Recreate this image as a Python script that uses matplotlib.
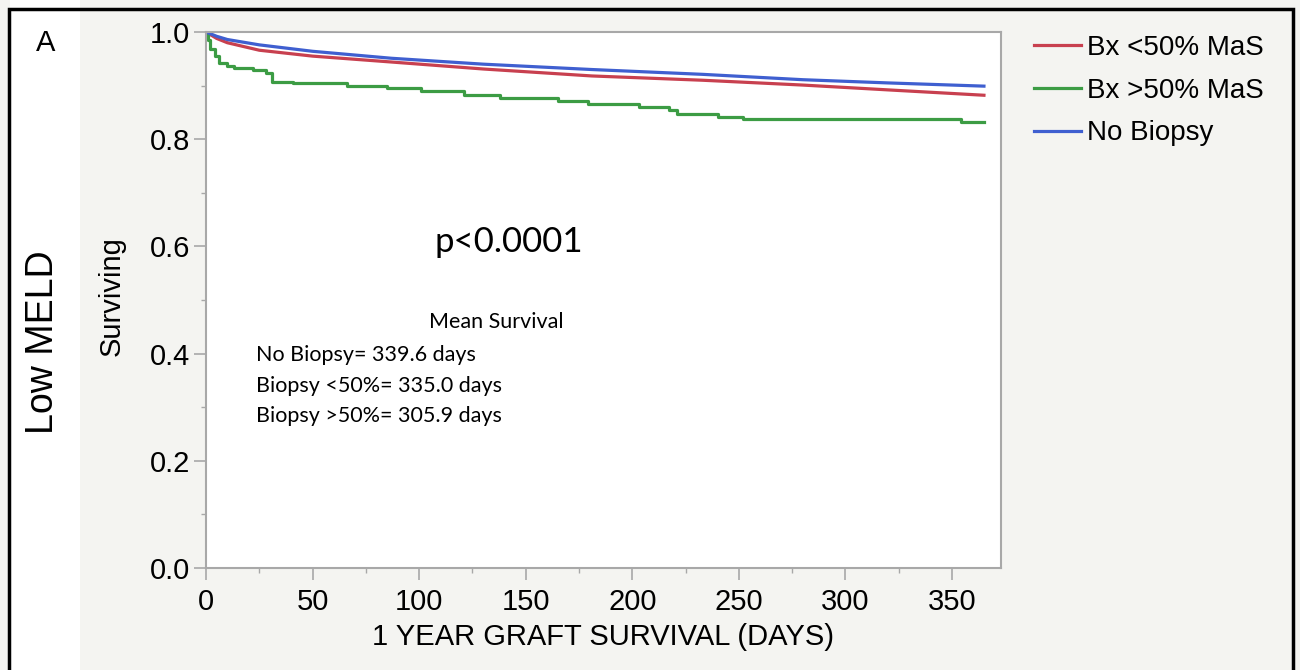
import matplotlib
matplotlib.use("Agg")
import matplotlib.pyplot as plt
from matplotlib.patches import Rectangle
from matplotlib.ticker import MultipleLocator

# Kaplan-Meier style survival curves
days_no_bx = [0, 5, 10, 25, 50, 87, 130, 181, 233, 280, 320, 365]
surv_no_bx = [1.0, 0.992, 0.986, 0.976, 0.964, 0.951, 0.940, 0.930, 0.921, 0.911, 0.905, 0.899]

days_lt50 = [0, 5, 10, 25, 50, 87, 130, 181, 233, 280, 320, 365]
surv_lt50 = [1.0, 0.988, 0.980, 0.966, 0.955, 0.944, 0.931, 0.918, 0.910, 0.901, 0.892, 0.882]

days_gt50 = [0, 1, 2, 4, 6, 10, 13, 22, 28, 31, 41, 66, 85, 101, 121, 138,
             165, 179, 203, 217, 221, 240, 252, 354, 365]
surv_gt50 = [1.0, 0.985, 0.968, 0.955, 0.942, 0.936, 0.933, 0.929, 0.924, 0.907,
             0.904, 0.899, 0.895, 0.889, 0.882, 0.877, 0.872, 0.866, 0.861, 0.855,
             0.847, 0.842, 0.837, 0.833, 0.833]

labels = ["Bx <50% MaS", "Bx >50% MaS", "No Biopsy"]
colors = ["#c8404f", "#3c9c44", "#3f5fd0"]

x_ticks = [0, 50, 100, 150, 200, 250, 300, 350]
y_ticks = [0.0, 0.2, 0.4, 0.6, 0.8, 1.0]

mean_lines = ["No Biopsy= 339.6 days",
              "Biopsy <50%= 335.0 days",
              "Biopsy >50%= 305.9 days"]

W, H = 1300, 670
fig = plt.figure(figsize=(13, 6.7), dpi=100, facecolor="#f4f4f1")
plt.rcParams["font.family"] = ["Liberation Sans", "DejaVu Sans"]

# white strip on the left and black frame
fig.patches.append(Rectangle((10 / W, 0), 70 / W, 1, transform=fig.transFigure,
                             facecolor="white", edgecolor="none", zorder=0))
fig.patches.append(Rectangle((9 / W, -0.1), 1284 / W, (661 / H) + 0.1,
                             transform=fig.transFigure, facecolor="none",
                             edgecolor="black", linewidth=2.5, zorder=5))

ax = fig.add_axes([206 / W, (H - 568) / H, 795 / W, 536 / H])
ax.set_facecolor("white")

l1, = ax.plot(days_lt50, surv_lt50, color=colors[0], lw=2.3)
l2, = ax.plot(days_gt50, surv_gt50, color=colors[1], lw=2.3, drawstyle="steps-post")
l3, = ax.plot(days_no_bx, surv_no_bx, color=colors[2], lw=2.3)

ax.set_xlim(0, 373)
ax.set_ylim(0, 1.0)
ax.set_xticks(x_ticks)
ax.set_yticks(y_ticks)
ax.set_yticklabels([f"{v:.1f}" for v in y_ticks])
ax.xaxis.set_minor_locator(MultipleLocator(25))
ax.yaxis.set_minor_locator(MultipleLocator(0.1))
for s in ax.spines.values():
    s.set_color("#a8a8a8")
    s.set_linewidth(1.5)
ax.tick_params(which="major", length=8.5, width=1.2, color="#a8a8a8",
               labelsize=21, labelcolor="black")
ax.tick_params(axis="x", which="major", pad=6)
ax.tick_params(axis="y", which="major", pad=3)
ax.tick_params(which="minor", length=3.6, width=1.0, color="#a8a8a8")

ax.set_xlabel("1 YEAR GRAFT SURVIVAL (DAYS)", fontsize=21, labelpad=5)
ax.set_ylabel("Surviving", fontsize=21, va="center")
ax.yaxis.set_label_coords((112 - 206) / 795, (568 - 296) / 536)

# annotations
ax.text(142, 0.608, "p<0.0001", fontsize=25, family="Lato", ha="center", va="center")
ax.text(136, 0.459, "Mean Survival", fontsize=15.5, family="Lato", ha="center", va="center")
for i, line in enumerate(mean_lines):
    ax.text(23.5, 0.397 - i * 0.057, line, fontsize=15.5, family="Lato",
            ha="left", va="center")

fig.text(46 / W, (H - 43) / H, "A", fontsize=21, ha="center", va="center")
fig.text(43 / W, (H - 342) / H, "Low MELD", fontsize=27, rotation=90,
         ha="center", va="center")

fig.legend([l1, l2, l3], labels, loc="upper left",
           bbox_to_anchor=(1023 / W, (H - 24) / H), frameon=False,
           fontsize=20, handlelength=1.7, handletextpad=0.2, labelspacing=0.6,
           borderaxespad=0)

fig.savefig("out.png", dpi=100, facecolor=fig.get_facecolor())
